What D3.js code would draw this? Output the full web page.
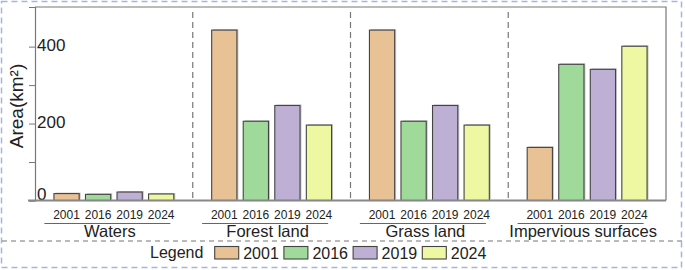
<!DOCTYPE html>
<html lang="en">
<head>
<meta charset="utf-8">
<title>Land cover area</title>
<script src="https://d3js.org/d3.v7.min.js"></script>
<style>
  body { margin: 0; background: #fff; }
  svg { display: block; font-family: "Liberation Sans", Arial, sans-serif; }
</style>
</head>
<body>
<script>
// data
const groups = ["Waters", "Forest land", "Grass land", "Impervious surfaces"];
const years = ["2001", "2016", "2019", "2024"];
const waters = [18, 16, 22, 17];
const forest = [443, 206, 247, 196];
const grass = [443, 206, 247, 196];
const impervious = [138, 354, 341, 401];
const yTicks = [0, 200, 400];
const yMinor = [100, 300];
const colors = ["#E8C195", "#A0DA9A", "#BEAFD5", "#EEF8A2"];

const seriesByGroup = [waters, forest, grass, impervious];

const w = 685, h = 270;
const padL = 35, padR = 666, padT = 7, padB = 200.5;

const svg = d3.select("body").append("svg")
  .attr("width", w)
  .attr("height", h);

// scales
const x0 = d3.scaleBand().domain(groups).range([padL, padR]);
const x1 = d3.scaleBand().domain(years).range([0, x0.bandwidth()])
  .paddingInner(0.2).paddingOuter(0.6);
const y = d3.scaleLinear().domain([0, 503]).range([padB, padT]);

// outer blue dashed frame
svg.append("rect")
  .attr("x", 1.5).attr("y", 1.5)
  .attr("width", 680).attr("height", 266)
  .attr("fill", "none")
  .attr("stroke", "#A3B6E2")
  .attr("stroke-width", 1.5)
  .attr("stroke-dasharray", "6,4");

// plot frame (top, right)
svg.append("path")
  .attr("d", `M${padL},${padT}H${padR}V${padB}`)
  .attr("fill", "none")
  .attr("stroke", "#777")
  .attr("stroke-width", 1.2);

// group separators
svg.selectAll(".sep")
  .data(groups.slice(1))
  .enter().append("line")
  .attr("class", "sep")
  .attr("x1", d => x0(d)).attr("x2", d => x0(d))
  .attr("y1", 12).attr("y2", padB)
  .attr("stroke", "#777")
  .attr("stroke-width", 1.2)
  .attr("stroke-dasharray", "6,4");

// bars
const g = svg.selectAll(".grp")
  .data(groups)
  .enter().append("g")
  .attr("class", "grp")
  .attr("transform", d => `translate(${x0(d)},0)`);

g.each(function(grp, gi) {
  const vals = seriesByGroup[gi].map((v, i) => ({ year: years[i], v: v, c: colors[i] }));
  const sel = d3.select(this);
  // faint shadow
  sel.selectAll(".shadow").data(vals).enter().append("rect")
    .attr("x", d => x1(d.year) + 1.5)
    .attr("y", d => y(d.v) - 1)
    .attr("width", x1.bandwidth())
    .attr("height", d => padB - y(d.v))
    .attr("fill", "#c8c8c8");
  sel.selectAll(".bar").data(vals).enter().append("rect")
    .attr("x", d => x1(d.year))
    .attr("y", d => y(d.v))
    .attr("width", x1.bandwidth())
    .attr("height", d => padB - y(d.v))
    .attr("fill", d => d.c)
    .attr("stroke", "#444")
    .attr("stroke-width", 1.1);
  // year labels
  sel.selectAll(".yr").data(years).enter().append("text")
    .attr("x", d => x1(d) + x1.bandwidth() / 2)
    .attr("y", 218.5)
    .attr("text-anchor", "middle")
    .attr("font-size", 12)
    .attr("fill", "#222")
    .text(d => d);
  // underline
  sel.append("line")
    .attr("x1", x0.bandwidth() / 2 - 69.5)
    .attr("x2", x0.bandwidth() / 2 + 56.5)
    .attr("y1", 223.5).attr("y2", 223.5)
    .attr("stroke", "#666")
    .attr("stroke-width", 1);
  sel.append("text")
    .attr("x", x0.bandwidth() / 2 - 4)
    .attr("y", 237)
    .attr("text-anchor", "middle")
    .attr("font-size", 16.5)
    .attr("fill", "#222")
    .text(grp);
});

// y axis
svg.append("g")
  .attr("transform", `translate(${padL},0)`)
  .call(d3.axisLeft(y).tickValues(yTicks).tickSize(6).tickFormat(""))
  .call(a => a.select(".domain").attr("stroke", "#777").attr("stroke-width", 1.2))
  .call(a => a.selectAll(".tick line").attr("stroke", "#777"));

svg.append("g")
  .attr("transform", `translate(${padL},0)`)
  .call(d3.axisLeft(y).tickValues(yMinor).tickSize(6).tickFormat(""))
  .call(a => a.select(".domain").remove())
  .call(a => a.selectAll(".tick line").attr("stroke", "#777"));

// tick labels inside plot
svg.selectAll(".ylab")
  .data(yTicks)
  .enter().append("text")
  .attr("x", padL + 2)
  .attr("y", d => d === 0 ? y(d) - 0.5 : y(d) + 4)
  .attr("font-size", 17)
  .attr("fill", "#222")
  .text(d => d);

// bottom axis line
svg.append("line")
  .attr("x1", 28).attr("x2", padR)
  .attr("y1", padB).attr("y2", padB)
  .attr("stroke", "#888")
  .attr("stroke-width", 1.8);

// y title
svg.append("text")
  .attr("transform", "translate(23,106) rotate(-90)")
  .attr("text-anchor", "middle")
  .attr("font-size", 19)
  .attr("fill", "#222")
  .text("Area(km²)");

// separator above legend
svg.append("line")
  .attr("x1", 2).attr("x2", 682)
  .attr("y1", 241).attr("y2", 241)
  .attr("stroke", "#777")
  .attr("stroke-width", 1.2)
  .attr("stroke-dasharray", "5,4");

// legend
svg.append("text")
  .attr("x", 150).attr("y", 258)
  .attr("font-size", 16)
  .attr("fill", "#222")
  .text("Legend");

const lx = d3.scalePoint().domain(years).range([243.2, 450.8]);
const lg = svg.selectAll(".leg")
  .data(years)
  .enter().append("g")
  .attr("class", "leg");
lg.append("rect")
  .attr("x", d => lx(d) - 28.5)
  .attr("y", 246.5)
  .attr("width", 24).attr("height", 12.5)
  .attr("fill", (d, i) => colors[i])
  .attr("stroke", "#444")
  .attr("stroke-width", 1.1);
lg.append("text")
  .attr("x", d => lx(d))
  .attr("y", 258.5)
  .attr("font-size", 16)
  .attr("fill", "#222")
  .text(d => d);
</script>
</body>
</html>
